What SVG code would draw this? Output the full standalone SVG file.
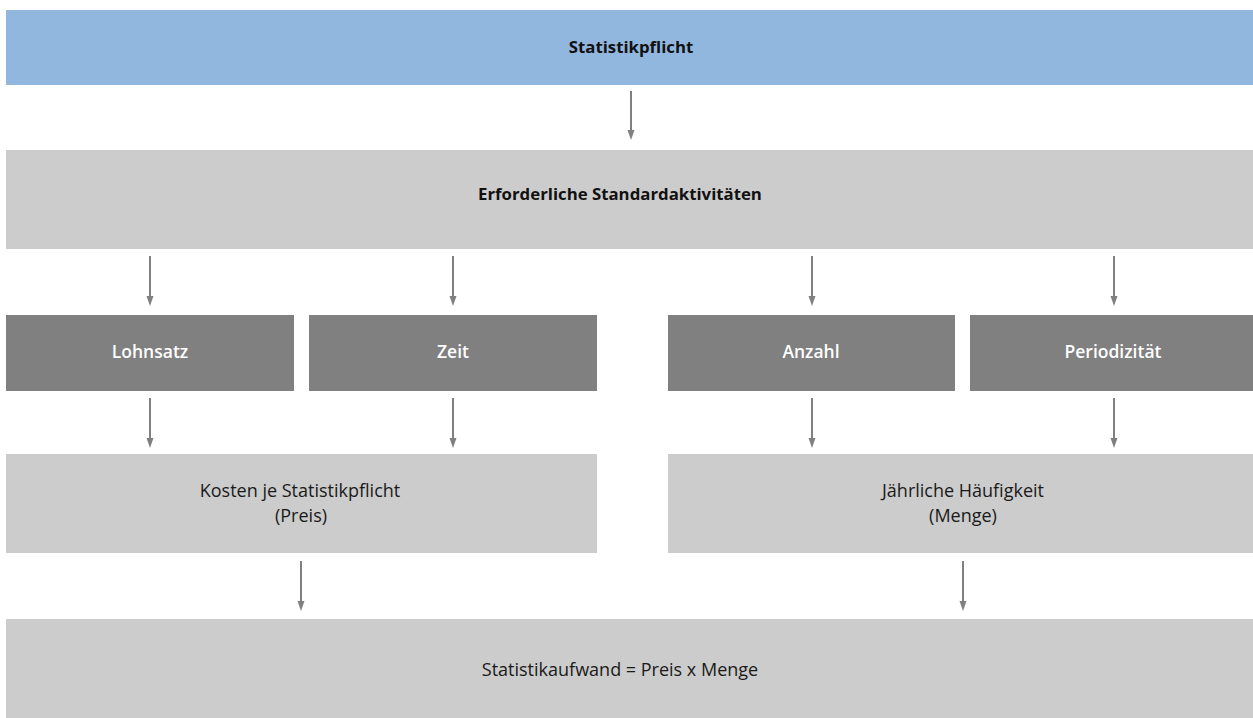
<svg xmlns="http://www.w3.org/2000/svg" width="1253" height="718" viewBox="0 0 1253 718">
<style>
.blue{fill:#92b7df}
.light{fill:#cccccc}
.dark{fill:#808080}
.ln{stroke:#808080;stroke-width:2}
.hd{fill:#808080}
text{font-family:"Open Sans","Noto Sans","Liberation Sans",sans-serif;text-anchor:middle}
.b{font-weight:700;fill:#111;font-size:16.8px}
.w{font-weight:600;fill:#ffffff;font-size:17.5px}
.r{font-weight:400;fill:#1a1a1a;font-size:18px}
</style>
<rect width="1253" height="718" fill="#ffffff"/>
<g id="connectors">
<line class="ln" x1="631" y1="91" x2="631" y2="131"/>
<path class="hd" d="M627.5,130 L634.5,130 L631,140 Z"/>
<line class="ln" x1="150" y1="256" x2="150" y2="297"/>
<path class="hd" d="M146.5,296 L153.5,296 L150,306 Z"/>
<line class="ln" x1="453" y1="256" x2="453" y2="297"/>
<path class="hd" d="M449.5,296 L456.5,296 L453,306 Z"/>
<line class="ln" x1="812" y1="256" x2="812" y2="297"/>
<path class="hd" d="M808.5,296 L815.5,296 L812,306 Z"/>
<line class="ln" x1="1114" y1="256" x2="1114" y2="297"/>
<path class="hd" d="M1110.5,296 L1117.5,296 L1114,306 Z"/>
<line class="ln" x1="150" y1="398" x2="150" y2="439"/>
<path class="hd" d="M146.5,438 L153.5,438 L150,448 Z"/>
<line class="ln" x1="453" y1="398" x2="453" y2="439"/>
<path class="hd" d="M449.5,438 L456.5,438 L453,448 Z"/>
<line class="ln" x1="812" y1="398" x2="812" y2="439"/>
<path class="hd" d="M808.5,438 L815.5,438 L812,448 Z"/>
<line class="ln" x1="1114" y1="398" x2="1114" y2="439"/>
<path class="hd" d="M1110.5,438 L1117.5,438 L1114,448 Z"/>
<line class="ln" x1="301" y1="561" x2="301" y2="602"/>
<path class="hd" d="M297.5,601 L304.5,601 L301,611 Z"/>
<line class="ln" x1="963" y1="561" x2="963" y2="602"/>
<path class="hd" d="M959.5,601 L966.5,601 L963,611 Z"/>
</g>
<g id="statistikpflicht">
<rect class="blue" x="6" y="10" width="1247" height="75"/>
<text class="b" x="631" y="53">Statistikpflicht</text>
</g>
<g id="standardaktivitaeten">
<rect class="light" x="6" y="150" width="1247" height="99"/>
<text class="b" x="620" y="200">Erforderliche Standardaktivitäten</text>
</g>
<g id="lohnsatz">
<rect class="dark" x="6" y="315" width="288" height="76"/>
<text class="w" x="150" y="358">Lohnsatz</text>
</g>
<g id="zeit">
<rect class="dark" x="309" y="315" width="288" height="76"/>
<text class="w" x="453" y="358">Zeit</text>
</g>
<g id="anzahl">
<rect class="dark" x="668" y="315" width="287" height="76"/>
<text class="w" x="811" y="358">Anzahl</text>
</g>
<g id="periodizitaet">
<rect class="dark" x="970" y="315" width="283" height="76"/>
<text class="w" x="1113" y="358">Periodizität</text>
</g>
<g id="kosten">
<rect class="light" x="6" y="454" width="591" height="99"/>
<text class="r" x="300" y="497">Kosten je Statistikpflicht</text>
<text class="r" x="301" y="522">(Preis)</text>
</g>
<g id="haeufigkeit">
<rect class="light" x="668" y="454" width="585" height="99"/>
<text class="r" x="963" y="497">Jährliche Häufigkeit</text>
<text class="r" x="963" y="522">(Menge)</text>
</g>
<g id="aufwand">
<rect class="light" x="6" y="619" width="1247" height="99"/>
<text class="r" x="620" y="676">Statistikaufwand = Preis x Menge</text>
</g>
</svg>
